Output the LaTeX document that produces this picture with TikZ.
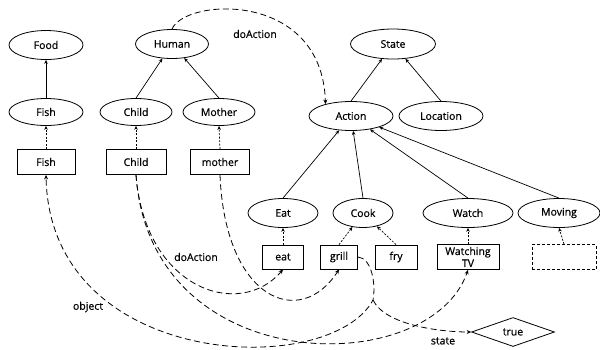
\documentclass[tikz,border=0pt]{standalone}
\usepackage{fontspec}
\setmainfont{Open Sans}[FakeBold=0.6]
\usetikzlibrary{shapes.geometric,arrows.meta}

\begin{document}
\begin{tikzpicture}[x=1pt,y=-1pt,
  every node/.style={font=\fontsize{10.5}{11}\selectfont},
  concept/.style={ellipse,draw,line width=0.8pt,inner sep=0pt,minimum height=29pt},
  inst/.style={rectangle,draw,line width=0.8pt,inner sep=0pt,minimum height=25pt},
  isa/.style={-{Stealth[length=4pt,width=3.5pt]},line width=0.7pt},
  typeof/.style={-{Stealth[length=4pt,width=3.5pt]},line width=0.7pt,dash pattern=on 2pt off 1.5pt},
  rel/.style={-{Stealth[length=4.5pt,width=4pt]},line width=0.8pt,dash pattern=on 6pt off 3.5pt}]

\useasboundingbox (0,0) rectangle (600,349);

% Concepts (ellipses)
\node[concept,minimum width=74pt] (Food) at (46,45) {Food};
\node[concept,minimum width=73pt] (Human) at (172,44) {Human};
\node[concept,minimum width=74pt,minimum height=27pt] (Fish) at (46,112) {Fish};
\node[concept,minimum width=72pt,minimum height=27pt] (Child) at (136,112) {Child};
\node[concept,minimum width=72pt,minimum height=27pt] (Mother) at (219,112) {Mother};
\node[concept,minimum width=85pt,minimum height=30pt] (State) at (393,44) {State};
\node[concept,minimum width=84pt] (Action) at (351,116) {Action};
\node[concept,minimum width=84pt] (Location) at (441,116) {Location};
\node[concept,minimum width=70pt] (Eat) at (283,213) {Eat};
\node[concept,minimum width=60pt] (Cook) at (363,213) {Cook};
\node[concept,minimum width=90pt] (Watch) at (468,213) {Watch};
\node[concept,minimum width=82pt] (Moving) at (559,213) {Moving};

% Instances (boxes)
\node[inst,minimum width=58pt] (fishI) at (46,162) {Fish};
\node[inst,minimum width=60pt] (childI) at (136,162) {Child};
\node[inst,minimum width=59pt] (motherI) at (220,162) {mother};
\node[inst,minimum width=41pt,minimum height=24pt] (eatI) at (283,257) {eat};
\node[inst,minimum width=37pt,minimum height=24pt] (grillI) at (339,257) {grill};
\node[inst,minimum width=42pt,minimum height=24pt] (fryI) at (396,257) {fry};
\node[inst,minimum width=62pt,align=center,font=\fontsize{10.5}{12}\selectfont] (tvI) at (468,257) {Watching\\TV};
\node[inst,minimum width=64pt,dash pattern=on 3pt off 2pt] (blankI) at (564,257) {};
\node[diamond,draw,line width=0.8pt,inner sep=0pt,minimum width=83pt,minimum height=29pt] (true) at (513,332) {true};

% Hierarchie
\draw[isa] (Fish) -- (Food);
\draw[isa] (Child.north) -- (Human);
\draw[isa] (Mother.north) -- (Human);
\draw[isa] (Action.north) -- (State);
\draw[isa] (Location.north) -- (State);
\foreach \n in {Eat,Cook,Watch,Moving}
  \draw[isa] (\n.north) -- (Action);

% Instance de
\foreach \i/\c in {fishI/Fish,childI/Child,motherI/Mother,eatI/Eat,tvI/Watch,blankI/Moving}
  \draw[typeof] (\i.north) -- (\c.south);
\draw[typeof] (grillI.north) -- (Cook);
\draw[typeof] (fryI.north) -- (Cook);

% Relations
\coordinate (split) at (373,300);
\draw[rel] (Human.north) .. controls (185,-2) and (322,-10) .. (Action.155);
\draw[rel] (childI.south) .. controls (145,290) and (240,320) .. (eatI.south);
\draw[rel] (childI.south) .. controls (150,380) and (430,380) .. (tvI.south);
\draw[rel] (motherI.south) .. controls (225,300) and (300,330) .. (grillI.south);
\draw[rel] (grillI.east) .. controls (372,258) and (376,285) .. (split)
  .. controls (330,380) and (50,370) .. (fishI.south);
\draw[rel] (split) .. controls (385,325) and (440,332) .. (true.west);

% Etiquettes
\node (lblDo) at (255,34) {doAction};
\node (lblDo2) at (196,257) {doAction};
\node (lblObj) at (88,307) {object};
\node (lblState) at (443,341) {state};

\end{tikzpicture}
\end{document}
